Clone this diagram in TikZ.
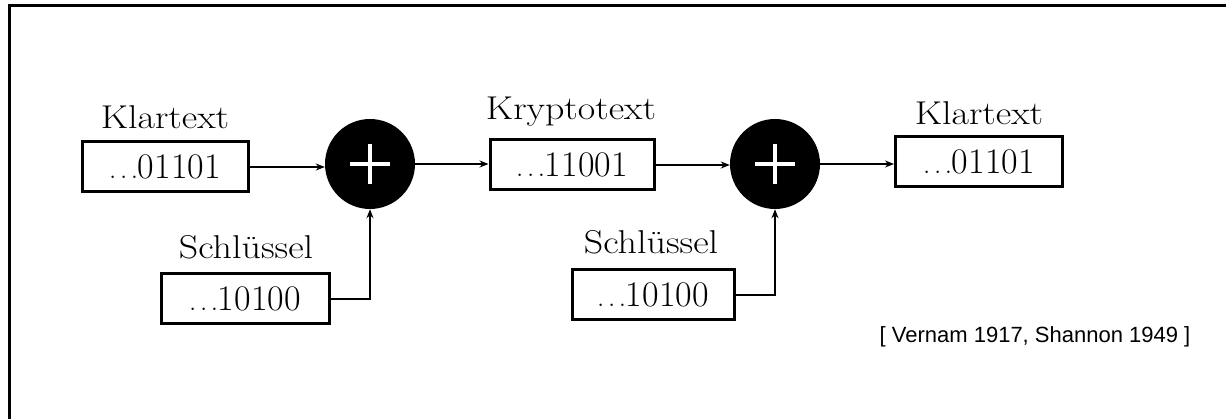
\documentclass[tikz,border=0pt]{standalone}
\usepackage{graphicx}
\usepackage{fontspec}
\newfontfamily\citefont{Liberation Sans}
\usetikzlibrary{arrows.meta}
\newcommand{\widelbl}[1]{\scalebox{1.15}[1]{#1}}
\begin{document}
\begin{tikzpicture}[x=1pt,y=-1pt,
  reg/.style={draw,line width=3pt,minimum width=#1,minimum height=50pt,inner sep=0pt,font=\fontsize{36}{38}\selectfont},
  lbl/.style={font=\fontsize{33}{36}\selectfont,inner sep=0pt},
  xorn/.style={circle,fill=black,minimum size=90pt,inner sep=0pt},
  plusbar/.style={white,line width=4pt},
  conn/.style={line width=1.4pt,-{Stealth[length=9pt,width=7pt]}},
]
\useasboundingbox (0,0) rectangle (1226,419);
\draw[line width=3pt] (9,419) -- (9,6) -- (1226,6);
\node[reg=166pt] (k1) at (165,167) {$\ldots$01101};
\node[lbl] (k1l) at (165,117) {\widelbl{Klartext}};
\node[xorn] (x1) at (370,164) {};
\draw[plusbar] (x1.center) ++(-20,0) -- ++(40,0) (x1.center) ++(0,-20) -- ++(0,40);
\node[reg=168pt] (s1) at (245,299) {$\ldots$10100};
\node[lbl] (s1l) at (246,247) {\widelbl{Schlüssel}};
\node[reg=164pt] (c) at (572,165) {$\ldots$11001};
\node[lbl] (cl) at (571,112) {\widelbl{Kryptotext}};
\node[xorn] (x2) at (775,164) {};
\draw[plusbar] (x2.center) ++(-20,0) -- ++(40,0) (x2.center) ++(0,-20) -- ++(0,40);
\node[reg=162pt] (s2) at (653,295) {$\ldots$10100};
\node[lbl] (s2l) at (651,242) {\widelbl{Schlüssel}};
\node[reg=167pt] (k2) at (979,162) {$\ldots$01101};
\node[lbl] (k2l) at (979,113) {\widelbl{Klartext}};
\node[font=\citefont\fontsize{22}{25}\selectfont,inner sep=0pt] (cite) at (1035,337) {[ Vernam 1917, Shannon 1949 ]};
\draw[conn] (k1.east) -- (k1.east -| x1.west);
\draw[conn] (s1.east) -| (x1.south);
\draw[conn] (x1.east) -- (x1.east -| c.west);
\draw[conn] (c.east) -- (c.east -| x2.west);
\draw[conn] (s2.east) -| (x2.south);
\draw[conn] (x2.east) -- (x2.east -| k2.west);
\end{tikzpicture}
\end{document}
